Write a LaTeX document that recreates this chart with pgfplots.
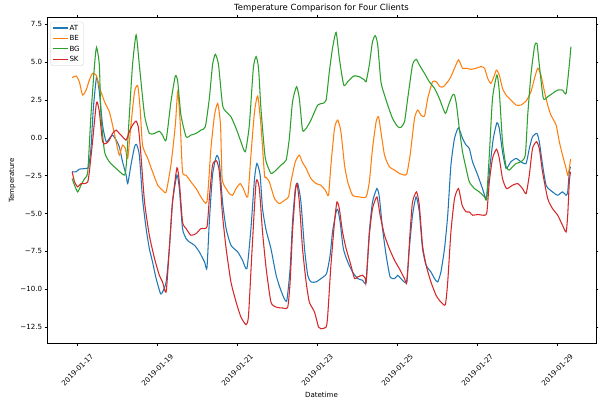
\documentclass[border=0pt]{standalone}
\usepackage{fontspec}
\setmainfont{DejaVu Sans}
\usepackage{pgfplots}
\pgfplotsset{compat=1.18}

\definecolor{cAT}{HTML}{1F77B4}
\definecolor{cBE}{HTML}{FF7F0E}
\definecolor{cBG}{HTML}{2CA02C}
\definecolor{cSK}{HTML}{D62728}

\begin{document}
\begin{tikzpicture}
\begin{axis}[
  scale only axis, width=776pt, height=461pt,
  xmin=16.2425, xmax=29.9675, ymin=-13.57, ymax=7.95,
  axis line style={line width=0.8pt},
  tick align=outside, major tick length=3.5pt,
  tick style={line width=0.8pt, black},
  xtick={17,19,21,23,25,27,29},
  xticklabels={2019-01-17,2019-01-19,2019-01-21,2019-01-23,2019-01-25,2019-01-27,2019-01-29},
  ytick={-12.5,-10,-7.5,-5,-2.5,0,2.5,5,7.5},
  yticklabels={−12.5,−10.0,−7.5,−5.0,−2.5,0.0,2.5,5.0,7.5},
  x tick label style={font=\fontsize{10}{12}\selectfont, yshift=-34pt, rotate=45, anchor=center},
  y tick label style={font=\fontsize{10}{12}\selectfont},
  title={Temperature Comparison for Four Clients},
  title style={font=\fontsize{12}{14}\selectfont, yshift=-3pt},
  xlabel={Datetime}, ylabel={Temperature},
  label style={font=\fontsize{10}{12}\selectfont},
  legend style={at={(0.0065,0.986)}, anchor=north west, font=\fontsize{10}{12}\selectfont,
    draw=black!20, rounded corners=2pt, row sep=2pt},
  legend cell align=left,
  legend image code/.code={\draw[#1] (0pt,0pt) -- (20pt,0pt);},
  every axis plot/.append style={line width=1.5pt, smooth, tension=0.35},
]
\coordinate (sw) at (rel axis cs:0,0);
\coordinate (ne) at (rel axis cs:1,1);

\addplot[cAT] coordinates {
(16.87,-2.24) (16.97,-2.24) (17.05,-2.07) (17.22,-2.02) (17.28,-1.91) (17.34,-0.70) (17.40,1.94)
(17.48,3.99) (17.55,3.04) (17.63,0.84) (17.72,-0.26) (17.80,-0.04) (17.88,0.18) (17.97,-0.15)
(18.05,-0.59) (18.13,-1.58) (18.22,-2.46) (18.26,-3.02) (18.34,-1.80) (18.43,-0.59) (18.48,-0.44)
(18.55,-1.14) (18.63,-4.01) (18.72,-5.99) (18.80,-7.31) (18.88,-8.19) (18.97,-9.29) (19.08,-10.29)
(19.13,-10.18) (19.22,-9.51) (19.30,-7.31) (19.38,-4.23) (19.49,-2.46) (19.55,-3.35) (19.63,-5.99)
(19.72,-6.65) (19.80,-6.87) (19.93,-7.09) (20.05,-7.53) (20.18,-8.19) (20.24,-8.59) (20.30,-5.55)
(20.38,-2.46) (20.48,-1.19) (20.55,-1.58) (20.63,-4.23) (20.72,-5.99) (20.84,-7.09) (21.01,-7.53)
(21.13,-8.08) (21.24,-8.63) (21.34,-5.99) (21.43,-2.69) (21.49,-1.69) (21.57,-2.46) (21.63,-4.67)
(21.72,-6.10) (21.84,-7.31) (21.97,-9.07) (22.09,-10.07) (22.23,-10.79) (22.32,-8.63) (22.38,-5.55)
(22.45,-3.35) (22.51,-3.02) (22.59,-4.23) (22.68,-7.31) (22.76,-9.07) (22.84,-9.51) (22.97,-9.51)
(23.09,-9.29) (23.23,-8.96) (23.32,-7.75) (23.38,-6.21) (23.47,-4.89) (23.51,-4.71) (23.57,-5.55)
(23.65,-7.31) (23.76,-8.19) (23.88,-8.85) (24.01,-9.29) (24.13,-9.40) (24.22,-9.51) (24.30,-6.21)
(24.38,-4.23) (24.49,-3.35) (24.55,-3.90) (24.63,-5.99) (24.72,-7.75) (24.82,-9.18) (24.93,-9.29)
(25.01,-9.07) (25.09,-9.29) (25.23,-9.51) (25.30,-7.31) (25.38,-5.11) (25.47,-3.90) (25.55,-4.89)
(25.63,-7.31) (25.72,-8.41) (25.84,-8.85) (25.93,-9.29) (26.01,-9.51) (26.09,-8.85) (26.18,-7.31)
(26.26,-5.11) (26.34,-1.80) (26.43,-0.04) (26.53,0.66) (26.63,-0.04) (26.72,-0.48) (26.80,-0.70)
(26.88,-1.58) (27.01,-2.46) (27.13,-3.35) (27.23,-4.01) (27.32,-1.80) (27.40,-0.04) (27.49,0.99)
(27.55,0.62) (27.63,-0.92) (27.72,-2.02) (27.84,-1.58) (27.97,-1.36) (28.09,-1.58) (28.22,-1.69)
(28.30,-0.70) (28.38,0.07) (28.49,0.29) (28.55,-0.26) (28.62,-1.58) (28.72,-3.13) (28.88,-3.57)
(29.01,-3.79) (29.13,-3.57) (29.22,-3.79) (29.26,-3.57) (29.30,-2.24) (29.33,-1.91)
};
\addlegendentry{AT}

\addplot[cBE] coordinates {
(16.87,3.97) (16.97,4.08) (17.05,3.70) (17.13,2.82) (17.22,3.15) (17.30,3.81) (17.38,4.25)
(17.47,4.14) (17.55,3.37) (17.68,2.38) (17.80,1.72) (17.88,0.84) (17.97,-0.26) (18.05,-1.14)
(18.13,-0.48) (18.20,-0.70) (18.26,-1.36) (18.34,0.84) (18.43,3.04) (18.51,3.44) (18.57,1.94)
(18.63,-0.48) (18.76,-1.36) (18.88,-2.24) (19.01,-3.13) (19.13,-3.46) (19.22,-3.57) (19.34,-1.80)
(19.45,0.84) (19.51,3.04) (19.57,1.06) (19.63,-2.24) (19.72,-2.46) (19.84,-2.91) (19.97,-3.35)
(20.09,-3.90) (20.24,-4.23) (20.34,-0.70) (20.43,1.50) (20.51,2.27) (20.58,0.84) (20.62,-2.69)
(20.72,-3.35) (20.80,-3.68) (20.88,-3.79) (20.97,-3.35) (21.07,-3.02) (21.15,-3.35) (21.26,-3.90)
(21.34,-1.14) (21.43,1.72) (21.51,2.76) (21.59,0.84) (21.68,-2.46) (21.72,-2.60) (21.80,-2.91)
(21.93,-4.01) (22.05,-4.34) (22.18,-4.12) (22.28,-3.90) (22.34,-2.91) (22.45,-1.58) (22.55,-1.14)
(22.62,-1.58) (22.72,-2.02) (22.84,-2.69) (22.97,-3.02) (23.09,-3.13) (23.20,-3.46) (23.28,-3.79)
(23.34,-1.80) (23.43,0.62) (23.51,1.17) (23.59,0.40) (23.68,-1.80) (23.76,-2.91) (23.88,-3.79)
(24.05,-3.90) (24.22,-3.90) (24.30,-2.91) (24.38,-0.70) (24.47,1.06) (24.53,1.39) (24.59,0.40)
(24.68,-1.14) (24.80,-1.91) (24.93,-2.13) (25.05,-2.35) (25.18,-2.46) (25.24,-2.35) (25.32,-1.14)
(25.43,1.28) (25.51,1.83) (25.59,1.50) (25.68,1.43) (25.76,2.60) (25.88,3.70) (25.97,3.70)
(26.07,3.37) (26.15,3.37) (26.26,3.70) (26.34,4.03) (26.43,4.59) (26.53,5.14) (26.63,4.59)
(26.72,4.59) (26.84,4.52) (26.97,4.59) (27.09,4.70) (27.18,4.59) (27.26,3.92) (27.34,3.59)
(27.43,4.14) (27.48,4.47) (27.55,4.14) (27.63,3.26) (27.72,2.82) (27.84,2.49) (27.97,2.16)
(28.09,2.16) (28.22,2.43) (28.34,3.04) (28.43,3.92) (28.51,4.59) (28.59,4.14) (28.68,3.04)
(28.76,2.16) (28.84,1.50) (28.97,0.84) (29.05,-0.26) (29.13,-1.14) (29.22,-2.02) (29.26,-2.46)
(29.30,-2.02) (29.33,-1.41)
};
\addlegendentry{BE}

\addplot[cBG] coordinates {
(16.87,-2.69) (16.93,-3.13) (17.01,-3.57) (17.09,-3.13) (17.18,-2.69) (17.26,-2.24) (17.34,1.50)
(17.43,4.81) (17.48,5.97) (17.55,4.81) (17.59,1.50) (17.68,-0.92) (17.80,-1.58) (17.97,-2.02)
(18.18,-2.46) (18.23,-1.58) (18.30,1.50) (18.38,4.81) (18.47,6.79) (18.55,4.81) (18.68,1.50)
(18.80,0.29) (18.93,0.29) (19.05,0.44) (19.13,0.18) (19.22,-0.15) (19.34,2.38) (19.45,4.08)
(19.51,3.70) (19.59,1.50) (19.72,0.07) (19.84,0.18) (19.97,0.29) (20.09,0.51) (20.20,0.73)
(20.30,2.60) (20.38,4.81) (20.45,5.51) (20.53,4.81) (20.63,2.16) (20.72,1.72) (20.84,1.39)
(20.97,0.62) (21.09,-0.26) (21.20,-0.92) (21.30,0.84) (21.40,4.59) (21.47,5.36) (21.53,4.59)
(21.59,1.94) (21.68,-0.92) (21.72,-1.58) (21.84,-2.35) (21.97,-2.13) (22.09,-1.80) (22.22,-1.47)
(22.30,-0.04) (22.38,2.38) (22.48,3.37) (22.55,2.60) (22.63,0.51) (22.72,0.62) (22.84,1.17)
(23.01,2.16) (23.13,2.27) (23.22,2.49) (23.30,4.36) (23.38,5.91) (23.47,6.96) (23.55,5.25)
(23.66,3.48) (23.76,3.70) (23.91,4.08) (24.05,4.03) (24.18,3.81) (24.22,3.70) (24.30,4.81)
(24.38,6.35) (24.45,6.74) (24.51,6.13) (24.59,3.70) (24.68,2.82) (24.76,2.16) (24.88,1.28)
(25.01,0.73) (25.09,0.69) (25.18,1.06) (25.26,2.60) (25.38,4.81) (25.47,5.18) (25.55,4.81)
(25.68,4.25) (25.80,3.70) (25.93,3.26) (26.05,2.60) (26.20,1.61) (26.28,2.16) (26.38,2.82)
(26.43,2.82) (26.48,2.16) (26.55,0.62) (26.63,-0.92) (26.72,-2.02) (26.80,-2.91) (26.93,-3.35)
(27.05,-3.57) (27.18,-3.90) (27.23,-4.01) (27.30,-1.14) (27.38,2.60) (27.49,4.14) (27.55,3.04)
(27.63,-0.26) (27.72,-1.91) (27.80,-2.13) (27.88,-1.91) (27.97,-1.69) (28.09,-1.58) (28.20,-1.14)
(28.26,1.50) (28.34,4.14) (28.43,6.02) (28.49,6.24) (28.55,4.81) (28.65,2.60) (28.76,2.71)
(28.88,2.93) (29.01,3.15) (29.13,3.15) (29.22,2.93) (29.30,4.81) (29.34,6.02)
};
\addlegendentry{BG}

\addplot[cSK] coordinates {
(16.87,-2.24) (16.93,-2.91) (17.01,-3.24) (17.09,-3.02) (17.18,-3.02) (17.26,-2.91) (17.30,-2.24)
(17.38,-0.26) (17.48,2.34) (17.55,1.72) (17.63,-0.26) (17.72,-0.37) (17.80,-0.15) (17.88,0.29)
(17.97,0.51) (18.05,0.29) (18.13,0.07) (18.22,-0.15) (18.30,0.40) (18.38,0.84) (18.47,1.10)
(18.53,0.62) (18.59,-1.14) (18.68,-4.23) (18.80,-6.43) (18.93,-7.97) (19.05,-9.07) (19.13,-9.51)
(19.22,-10.18) (19.30,-7.31) (19.38,-4.23) (19.49,-1.98) (19.55,-2.91) (19.63,-5.55) (19.72,-5.99)
(19.84,-6.43) (19.97,-6.32) (20.09,-5.99) (20.24,-5.88) (20.30,-4.01) (20.38,-1.80) (20.48,-1.52)
(20.55,-2.24) (20.63,-5.11) (20.72,-7.31) (20.84,-9.51) (20.97,-10.84) (21.09,-11.83) (21.22,-12.33)
(21.28,-11.72) (21.37,-7.31) (21.47,-2.91) (21.55,-3.35) (21.63,-6.21) (21.72,-8.60) (21.84,-10.84)
(21.97,-11.17) (22.13,-11.23) (22.26,-11.17) (22.32,-9.51) (22.38,-6.21) (22.45,-3.57) (22.49,-3.02)
(22.55,-4.23) (22.63,-7.31) (22.72,-9.51) (22.80,-10.84) (22.93,-11.50) (23.03,-12.49) (23.09,-12.60)
(23.22,-12.49) (23.26,-11.72) (23.34,-8.41) (23.43,-5.55) (23.49,-4.23) (23.55,-4.67) (23.63,-6.21)
(23.72,-7.31) (23.84,-8.41) (23.93,-9.29) (24.01,-9.18) (24.13,-9.07) (24.20,-9.29) (24.22,-9.51)
(24.30,-6.43) (24.38,-4.67) (24.49,-3.90) (24.57,-5.11) (24.68,-6.43) (24.80,-7.31) (24.93,-8.08)
(25.05,-8.63) (25.18,-9.29) (25.24,-9.51) (25.32,-6.21) (25.38,-4.23) (25.48,-3.57) (25.55,-4.45)
(25.63,-7.09) (25.72,-8.41) (25.84,-9.51) (25.97,-10.40) (26.09,-10.84) (26.20,-11.01) (26.26,-9.51)
(26.34,-6.21) (26.43,-4.01) (26.53,-3.35) (26.62,-4.45) (26.72,-4.89) (26.80,-4.89) (26.88,-5.11)
(27.01,-5.06) (27.18,-5.11) (27.24,-4.89) (27.30,-2.91) (27.38,-1.36) (27.48,-0.75) (27.55,-1.36)
(27.63,-2.69) (27.73,-3.35) (27.88,-3.13) (28.01,-3.02) (28.13,-3.35) (28.22,-3.68) (28.30,-2.46)
(28.38,-0.70) (28.48,-0.26) (28.55,-0.70) (28.63,-2.24) (28.76,-4.01) (28.88,-4.67) (29.01,-5.11)
(29.13,-5.77) (29.22,-6.21) (29.26,-5.11) (29.30,-2.91) (29.33,-2.24)
};
\addlegendentry{SK}
\end{axis}
\pgfresetboundingbox
\path ([xshift=-66.5pt,yshift=-77.3pt]sw) rectangle ([xshift=21.2pt,yshift=24.5pt]ne);
\end{tikzpicture}
\end{document}
